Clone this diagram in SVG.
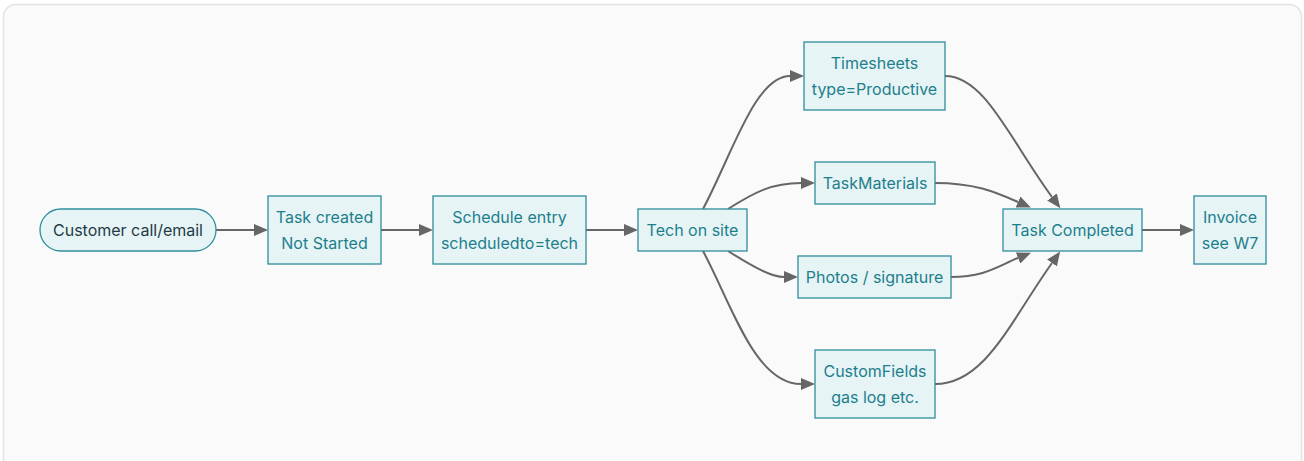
<svg xmlns="http://www.w3.org/2000/svg" width="1304" height="461" viewBox="0 0 1304 461">
<defs>
<style>
.n{fill:#e6f4f6;stroke:#2f8e9c;stroke-width:1.3}
.t{font-family:Inter,"Noto Sans",sans-serif;font-size:16px;fill:#1d7f8c;text-anchor:middle}
.d{fill:#1f3b45}
.e{fill:none;stroke:#666;stroke-width:2}
</style>
<marker id="a" markerUnits="userSpaceOnUse" markerWidth="14" markerHeight="12" refX="0" refY="6" orient="auto" viewBox="0 0 14 12">
<path d="M0,0 L14,6 L0,12 Z" fill="#666"/>
</marker>
</defs>
<rect x="3.5" y="4.5" width="1298" height="470" rx="12" fill="#fafafa" stroke="#e3e3e3" stroke-width="1.5"/>
<g id="edges">
<path class="e" marker-end="url(#a)" d="M216,230 L254,230"/>
<path class="e" marker-end="url(#a)" d="M381,230 L419,230"/>
<path class="e" marker-end="url(#a)" d="M586,230 L624,230"/>
<path class="e" marker-end="url(#a)" d="M1142,230 L1180,230"/>
<path class="e" marker-end="url(#a)" d="M703,209 C732,155 755,76 790,76"/>
<path class="e" marker-end="url(#a)" d="M728,209 C755,192 772,183 801,183"/>
<path class="e" marker-end="url(#a)" d="M728,251 C755,268 772,277 784,277"/>
<path class="e" marker-end="url(#a)" d="M703,251 C732,305 755,384 801,384"/>
<path class="e" marker-end="url(#a)" d="M945,76 C985,76 1010,140 1052,197"/>
<path class="e" marker-end="url(#a)" d="M935,183 C975,183 995,192 1018,202"/>
<path class="e" marker-end="url(#a)" d="M951,277 C985,277 998,266 1018,258"/>
<path class="e" marker-end="url(#a)" d="M935,384 C985,384 1010,322 1052,263"/>
</g>
<g id="customer"><rect class="n" x="40" y="209" width="176" height="42" rx="21"/><text class="t d" x="128" y="236">Customer call/email</text></g>
<g id="task-created"><rect class="n" x="268" y="196" width="113" height="68"/><text class="t" x="324.5" y="223">Task created</text><text class="t" x="324.5" y="249">Not Started</text></g>
<g id="schedule"><rect class="n" x="433" y="196" width="153" height="68"/><text class="t" x="509.5" y="223">Schedule entry</text><text class="t" x="509.5" y="249">scheduledto=tech</text></g>
<g id="tech"><rect class="n" x="638" y="209" width="109" height="42"/><text class="t" x="692.5" y="236">Tech on site</text></g>
<g id="timesheets"><rect class="n" x="804" y="42" width="141" height="68"/><text class="t" x="874.5" y="69">Timesheets</text><text class="t" x="874.5" y="95">type=Productive</text></g>
<g id="materials"><rect class="n" x="815" y="162" width="120" height="42"/><text class="t" x="875" y="189">TaskMaterials</text></g>
<g id="photos"><rect class="n" x="798" y="256" width="153" height="42"/><text class="t" x="874.5" y="283">Photos / signature</text></g>
<g id="customfields"><rect class="n" x="815" y="350" width="120" height="68"/><text class="t" x="875" y="377">CustomFields</text><text class="t" x="875" y="403">gas log etc.</text></g>
<g id="completed"><rect class="n" x="1003" y="209" width="139" height="42"/><text class="t" x="1072.5" y="236">Task Completed</text></g>
<g id="invoice"><rect class="n" x="1194" y="196" width="72" height="68"/><text class="t" x="1230" y="223">Invoice</text><text class="t" x="1230" y="249">see W7</text></g>
</svg>
